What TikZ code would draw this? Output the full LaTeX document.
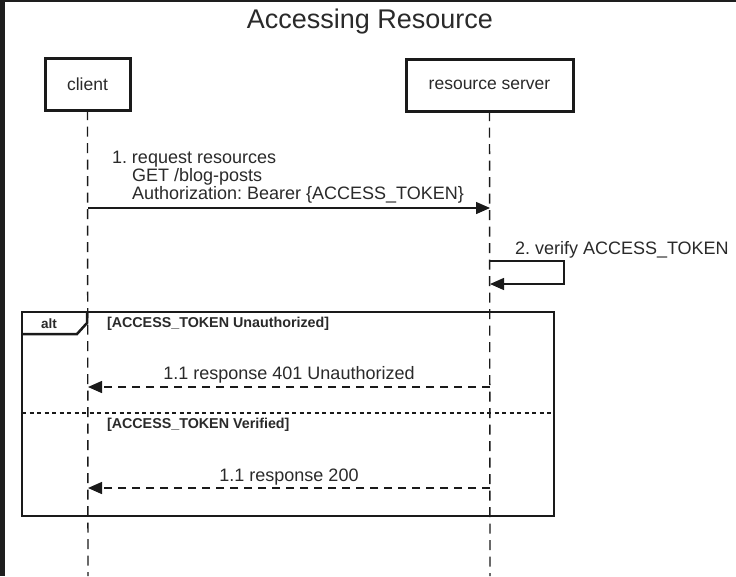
\documentclass[tikz,border=0pt]{standalone}
\usepackage{fontspec}
\setmainfont{Liberation Sans}
\usetikzlibrary{arrows.meta}
\definecolor{txt}{HTML}{2A2A2A}
\definecolor{ln}{HTML}{1A1A1A}
\definecolor{frm}{HTML}{1E1E1E}
\frenchspacing
\begin{document}
\begin{tikzpicture}[x=1pt,y=-1pt,
  every node/.style={inner sep=0pt,outer sep=0pt,text=txt},
  actor/.style={draw=ln,line width=3pt,minimum height=52pt,font=\fontsize{17.5}{18}\selectfont},
  lifeline/.style={draw=ln,line width=1.4pt,dash pattern=on 10pt off 6.5pt},
  msg/.style={draw=ln,line width=1.4pt,-{Triangle[length=14pt,width=12pt]}},
  reply/.style={draw=ln,line width=1.4pt,dash pattern=on 8pt off 6pt,-{Triangle[length=14pt,width=12pt]}},
  lbl/.style={font=\fontsize{18}{18}\selectfont\frenchspacing},
  guard/.style={font=\fontsize{13.5}{14}\selectfont\bfseries},
  altframe/.style={draw=ln,line width=2.5pt},
  divider/.style={draw=ln,line width=2.5pt,dash pattern=on 4pt off 3.5pt}]
\useasboundingbox (0,0) rectangle (736,576);
\fill[white] (0,0) rectangle (736,576);
\fill[frm] (0,0) rectangle (4.5,576);
\fill[frm] (0,0) rectangle (736,1.5);

% title
\node (title) [anchor=base,font=\fontsize{27}{28}\selectfont] at (370,28.5) {Accessing Resource};

% participants
\node (client) [actor,minimum width=85pt] at (87.5,84) {client};
\node (server) [actor,minimum width=167pt] at (489.5,85) {resource server};

% lifelines
\coordinate (clientEnd) at (88,576);
\coordinate (serverEnd) at (490,576);
\draw[lifeline] (client.south) -- (clientEnd);
\draw[lifeline] (server.south) -- (serverEnd);

% message 1
\coordinate (m1a) at (88,208);
\coordinate (m1b) at (490,208);
\draw[msg] (m1a) -- (m1b);
\node (m1lbl) [lbl,anchor=base west] at (112,163)
  {\begin{tabular}[t]{@{}l@{}}1.\ request resources\\\hphantom{1.\ }GET /blog-posts\\\hphantom{1.\ }Authorization: Bearer \{ACCESS\_TOKEN\}\end{tabular}};

% self message 2
\coordinate (s1) at (490,261);
\coordinate (s1r) at (564,261);
\coordinate (s2r) at (564,284);
\coordinate (s2) at (490,284);
\draw[msg] (s1) -- (s1r) -- (s2r) -- (s2);
\node (m2lbl) [lbl,anchor=base west] at (515,254) {2. verify ACCESS\_TOKEN};

% alt frame
\node (alt) [altframe,anchor=north west,minimum width=532pt,minimum height=204pt] at (22,312) {};
\coordinate (tabA) at (22,334);
\coordinate (tabB) at (77,334);
\coordinate (tabC) at (87,323);
\coordinate (tabD) at (87,312);
\draw[altframe] (tabA) -- (tabB) -- (tabC) -- (tabD);
\node (altlbl) [guard] at (49,323.5) {alt};
\node (g1) [guard,font=\fontsize{14.3}{15}\selectfont\bfseries,anchor=west] at (107,323.5) {[ACCESS\_TOKEN Unauthorized]};
\coordinate (divL) at (22,413);
\coordinate (divR) at (554,413);
\draw[divider] (divL) -- (divR);
\node (g2) [guard,font=\fontsize{14.3}{15}\selectfont\bfseries,anchor=west] at (107,425) {[ACCESS\_TOKEN Verified]};

% replies
\coordinate (r1a) at (490,387);
\coordinate (r1b) at (88,387);
\draw[reply] (r1a) -- (r1b);
\node (r1lbl) [lbl,anchor=base] at (289,379.5) {1.1 response 401 Unauthorized};

\coordinate (r2a) at (490,488);
\coordinate (r2b) at (88,488);
\draw[reply] (r2a) -- (r2b);
\node (r2lbl) [lbl,anchor=base] at (289,481.5) {1.1 response 200};
\end{tikzpicture}
\end{document}
